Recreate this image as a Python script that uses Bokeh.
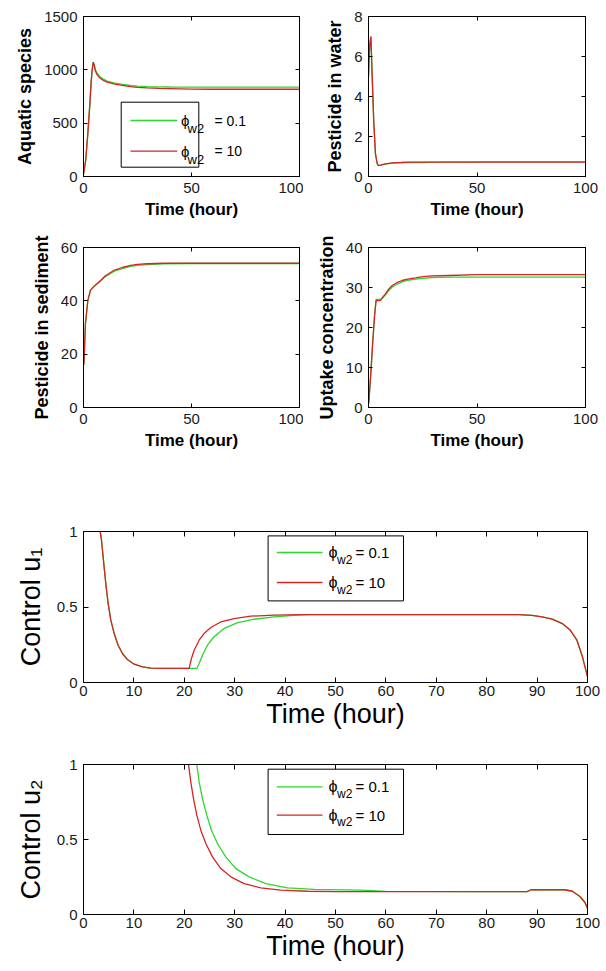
from bokeh.plotting import figure
from bokeh.models import Range1d, FixedTicker, LinearAxis, BoxAnnotation, Label, Arrow
from bokeh.layouts import column, row
from bokeh.embed import file_html
from bokeh.resources import INLINE

# ------------------------------------------------------------------ data
phi_values = ["0.1", "10"]            # legend values (green, red)
phi_symbol = "\u03d5"
phi_sub = "w2"

time_ticks_small = [0, 50, 100]
time_ticks_big = [0, 10, 20, 30, 40, 50, 60, 70, 80, 90, 100]

# Aquatic species
aq_ticks = [0, 500, 1000, 1500]
aq_t = [0, 1, 2, 3, 3.5, 4, 4.5, 5, 5.5, 6.3, 7.5, 9.4, 11, 14, 18, 21.8, 25, 29.5, 35, 40, 50, 60, 80, 100]
aq_green = [20, 150, 400, 690, 870, 995, 1070, 1045, 1000, 968, 938, 910, 895, 878, 864, 853, 847, 843, 840, 839, 838, 838, 838, 838]
aq_red = [20, 150, 400, 700, 880, 1000, 1072, 1040, 990, 955, 925, 898, 885, 868, 855, 843, 836, 830, 826, 824, 819, 818, 818, 818]

# Pesticide in water
pw_ticks = [0, 2, 4, 6, 8]
pw_t = [0, 0.3, 0.6, 1.1, 1.7, 2.4, 3.2, 4.0, 4.5, 5.5, 7.8, 10.9, 15, 18.6, 25, 30, 50, 100]
pw_green = [5.0, 6.0, 6.6, 7.0, 5.0, 2.8, 1.13, 0.65, 0.55, 0.57, 0.62, 0.67, 0.69, 0.70, 0.70, 0.72, 0.73, 0.73]
pw_red = [5.0, 6.0, 6.6, 7.0, 5.0, 2.8, 1.13, 0.65, 0.55, 0.57, 0.63, 0.68, 0.70, 0.72, 0.72, 0.72, 0.72, 0.72]

# Pesticide in sediment
ps_ticks = [0, 20, 40, 60]
ps_t = [0, 0.2, 0.9, 2.0, 3.2, 5, 7.9, 10, 14, 18, 21.8, 25, 29.5, 37.2, 50, 100]
ps_green = [16, 16.4, 31.4, 40.1, 43.9, 45.5, 47.4, 49.0, 51.0, 52.1, 52.9, 53.3, 53.6, 53.9, 54.0, 54.0]
ps_red = [16, 16.4, 31.4, 40.1, 43.9, 45.6, 47.6, 49.3, 51.4, 52.5, 53.3, 53.7, 53.9, 54.1, 54.1, 54.1]

# Uptake concentration
up_ticks = [0, 10, 20, 30, 40]
up_t = [0, 0.15, 1.0, 2.0, 2.8, 3.5, 4.5, 5.5, 6.5, 7.8, 9.3, 10.9, 13, 15.5, 18, 21.7, 25, 29.3, 36.9, 50, 100]
up_green = [1.0, 1.3, 8, 16.75, 23, 27.0, 27.0, 27.0, 27.4, 28.1, 29.2, 30.1, 30.8, 31.4, 31.8, 32.1, 32.3, 32.5, 32.6, 32.6, 32.6]
up_red = [1.0, 1.3, 8, 16.75, 23, 26.75, 26.7, 26.8, 27.5, 28.4, 29.6, 30.5, 31.2, 31.75, 32.1, 32.4, 32.7, 32.9, 33.0, 33.2, 33.2]

# Control u1
u_ticks = [0, 0.5, 1]
u_tick_labels = ["0", "0.5", "1"]
u1_t_green = [2.9, 3.3, 3.57, 3.83, 4.09, 4.49, 4.89, 5.42, 6.08, 6.87, 7.73, 8.72, 10.05, 11.7, 13.35, 16, 20, 22.48,
              22.94, 23.6, 24.6, 25.9, 27.9, 30.6, 33.9, 37.8, 41.8, 44.8, 60, 80, 86.3, 89, 91, 93, 95, 96.5, 97.9, 99, 99.6, 100]
u1_green = [1.1, 1.004, 0.943, 0.854, 0.766, 0.634, 0.523, 0.413, 0.325, 0.247, 0.192, 0.152, 0.121, 0.104, 0.095, 0.093, 0.093, 0.093,
            0.126, 0.181, 0.247, 0.303, 0.358, 0.397, 0.419, 0.435, 0.444, 0.449, 0.45, 0.45, 0.45, 0.445, 0.435, 0.42, 0.39, 0.35, 0.28, 0.17, 0.09, 0.04]
u1_t_red = [2.9, 3.3, 3.57, 3.83, 4.09, 4.49, 4.89, 5.42, 6.08, 6.87, 7.73, 8.72, 10.05, 11.7, 13.35, 16, 20.96,
            21.42, 21.95, 22.94, 23.93, 25.25, 27.23, 29.87, 33.18, 37.8, 43.1, 60, 80, 86.3, 89, 91, 93, 95, 96.5, 97.9, 99, 99.6, 100]
u1_red = [1.1, 1.004, 0.943, 0.854, 0.766, 0.634, 0.523, 0.413, 0.325, 0.247, 0.192, 0.152, 0.121, 0.104, 0.095, 0.093, 0.093,
          0.159, 0.214, 0.280, 0.325, 0.364, 0.401, 0.423, 0.439, 0.446, 0.450, 0.45, 0.45, 0.45, 0.445, 0.435, 0.42, 0.39, 0.35, 0.28, 0.17, 0.09, 0.04]

# Control u2
u2_t_green = [22.2, 22.48, 22.94, 23.6, 24.46, 25.39, 26.58, 28.23, 30.22, 32.86, 36.17, 40.47, 45.76, 55.0, 60, 80, 88.0, 88.8, 95.5, 97, 98.5, 99.5, 100]
u2_green = [1.06, 1.0, 0.884, 0.773, 0.662, 0.562, 0.473, 0.384, 0.306, 0.251, 0.206, 0.178, 0.167, 0.163, 0.154, 0.153, 0.153, 0.165, 0.165, 0.155, 0.12, 0.08, 0.04]
u2_t_red = [20.55, 20.83, 21.29, 21.82, 22.48, 23.27, 24.27, 25.59, 27.24, 29.23, 31.87, 35.18, 39.15, 44.44, 50, 80, 88.0, 88.8, 95.5, 97, 98.5, 99.5, 100]
u2_red = [1.06, 1.0, 0.884, 0.773, 0.662, 0.562, 0.473, 0.384, 0.306, 0.251, 0.206, 0.178, 0.162, 0.155, 0.153, 0.153, 0.153, 0.165, 0.165, 0.155, 0.12, 0.08, 0.04]

# ------------------------------------------------------------------ style
GREEN = "#2bd82b"
RED = "#d42424"
FONT = "Liberation Sans"
TICK_COLOR = "#1a1a1a"


def make_fig(width, height, bl, br, bt, bb, y_end, yticks, xticks, ylabel,
             big=False, ytick_labels=None):
    p = figure(width=width, height=height,
               x_range=Range1d(0, 100), y_range=Range1d(0, y_end),
               output_backend="svg", toolbar_location=None,
               min_border_left=bl, min_border_right=br,
               min_border_top=bt, min_border_bottom=bb,
               x_axis_label="Time (hour)", y_axis_label=ylabel)
    p.grid.visible = False
    p.outline_line_color = "black"
    p.border_fill_color = "white"
    p.background_fill_color = "white"
    tick_in = 5 if big else 4
    for ax in p.xaxis + p.yaxis:
        ax.axis_line_color = "black"
        ax.major_tick_in = tick_in
        ax.major_tick_out = 0
        ax.minor_tick_line_color = None
        ax.major_label_text_font = FONT
        ax.major_label_text_font_size = "15px"
        ax.major_label_text_color = TICK_COLOR
        ax.axis_label_text_font = FONT
        ax.axis_label_text_color = "black"
        if big:
            ax.axis_label_text_font_size = "27px"
            ax.axis_label_text_font_style = "normal"
        else:
            ax.axis_label_text_font_style = "bold"
    if not big:
        p.xaxis.axis_label_text_font_size = "17px"
        p.yaxis.axis_label_text_font_size = "18px"
    p.xaxis.ticker = FixedTicker(ticks=xticks)
    p.yaxis.ticker = FixedTicker(ticks=yticks)
    if ytick_labels is not None:
        p.yaxis.major_label_overrides = {float(v): s for v, s in zip(yticks, ytick_labels)}
    p.xaxis.major_label_standoff = 3 if big else 6
    p.yaxis.major_label_standoff = 6
    p.xaxis.axis_label_standoff = 0 if big else 4
    p.yaxis.axis_label_standoff = 8 if big else 6
    # MATLAB-like box ticks on top and right (no labels drawn)
    for loc, ticks in (("right", yticks), ("above", xticks)):
        ax = LinearAxis(ticker=FixedTicker(ticks=ticks),
                        major_label_text_font_size="1px",
                        major_label_text_color=None,
                        major_label_standoff=0,
                        major_tick_in=tick_in, major_tick_out=0,
                        minor_tick_line_color=None,
                        axis_line_color="black")
        p.add_layout(ax, loc)
    return p


def add_curves(p, tg, yg, tr, yr):
    p.line(tg, yg, line_color=GREEN, line_width=1.3)
    p.line(tr, yr, line_color=RED, line_width=1.3)


def add_legend(p, fw, fh, box, line_x, line_y, phi_x, sub_x, eq_x,
               phi_size, sub_size, eq_size, sub_dy):
    xr, yr = p.x_range, p.y_range

    def X(px):
        return xr.start + px / fw * (xr.end - xr.start)

    def Y(py):
        return yr.end - py / fh * (yr.end - yr.start)

    l, t, r, b = box
    p.add_layout(BoxAnnotation(left=X(l), right=X(r), top=Y(t), bottom=Y(b),
                               fill_color="white", fill_alpha=1.0,
                               line_color="black", line_width=1, line_alpha=1.0))
    for color, ly, val in zip((GREEN, RED), line_y, phi_values):
        p.add_layout(Arrow(start=None, end=None, x_start=X(line_x[0]), y_start=Y(ly),
                           x_end=X(line_x[1]), y_end=Y(ly),
                           line_color=color, line_width=1.3))
        p.add_layout(Label(x=X(phi_x), y=Y(ly), text=phi_symbol, text_font=FONT,
                           text_font_size=phi_size, text_baseline="middle",
                           text_align="left", text_color="black"))
        p.add_layout(Label(x=X(sub_x), y=Y(ly + sub_dy), text=phi_sub, text_font=FONT,
                           text_font_size=sub_size, text_baseline="middle",
                           text_align="left", text_color="black"))
        p.add_layout(Label(x=X(eq_x), y=Y(ly), text="= " + val, text_font=FONT,
                           text_font_size=eq_size, text_baseline="middle",
                           text_align="left", text_color="black"))


# ------------------------------------------------------------------ panels
FW1, FH1 = 216, 160
FWB, FH5, FH6 = 504, 151, 150

p1 = make_fig(303, 222, 83, 4, 16, 46, 1500, aq_ticks, time_ticks_small, "Aquatic species")
add_curves(p1, aq_t, aq_green, aq_t, aq_red)
add_legend(p1, FW1, FH1, (37.7, 85.7, 115.3, 150.7), (47, 93.7), (104, 134.7),
           97.5, 104, 131, "15px", "13px", "14px", 8)

p2 = make_fig(303, 222, 65, 21, 16, 46, 8, pw_ticks, time_ticks_small, "Pesticide in water")
add_curves(p2, pw_t, pw_green, pw_t, pw_red)

p3 = make_fig(303, 231, 83, 4, 25, 46, 60, ps_ticks, time_ticks_small, "Pesticide in sediment")
add_curves(p3, ps_t, ps_green, ps_t, ps_red)

p4 = make_fig(303, 231, 65, 21, 25, 46, 40, up_ticks, time_ticks_small, "Uptake concentration")
add_curves(p4, up_t, up_green, up_t, up_red)

p5 = make_fig(606, 283, 83, 19, 78, 54, 1, u_ticks, time_ticks_big, "Control u\u2081",
              big=True, ytick_labels=u_tick_labels)
add_curves(p5, u1_t_green, u1_green, u1_t_red, u1_red)
add_legend(p5, FWB, FH5, (184.6, 4.4, 320, 69.4), (193.3, 239), (21, 51),
           245, 253.5, 272, "16px", "12px", "15px", 7)

p6 = make_fig(606, 234, 83, 19, 28, 56, 1, u_ticks, time_ticks_big, "Control u\u2082",
              big=True, ytick_labels=u_tick_labels)
add_curves(p6, u2_t_green, u2_green, u2_t_red, u2_red)
add_legend(p6, FWB, FH6, (184.6, 4.7, 320, 70), (193.3, 239), (22.4, 50.7),
           245, 253.5, 272, "16px", "12px", "15px", 7)

layout = column(row(p1, p2), row(p3, p4), p5, p6)

with open("out.html", "w") as f:
    f.write(file_html(layout, INLINE))
